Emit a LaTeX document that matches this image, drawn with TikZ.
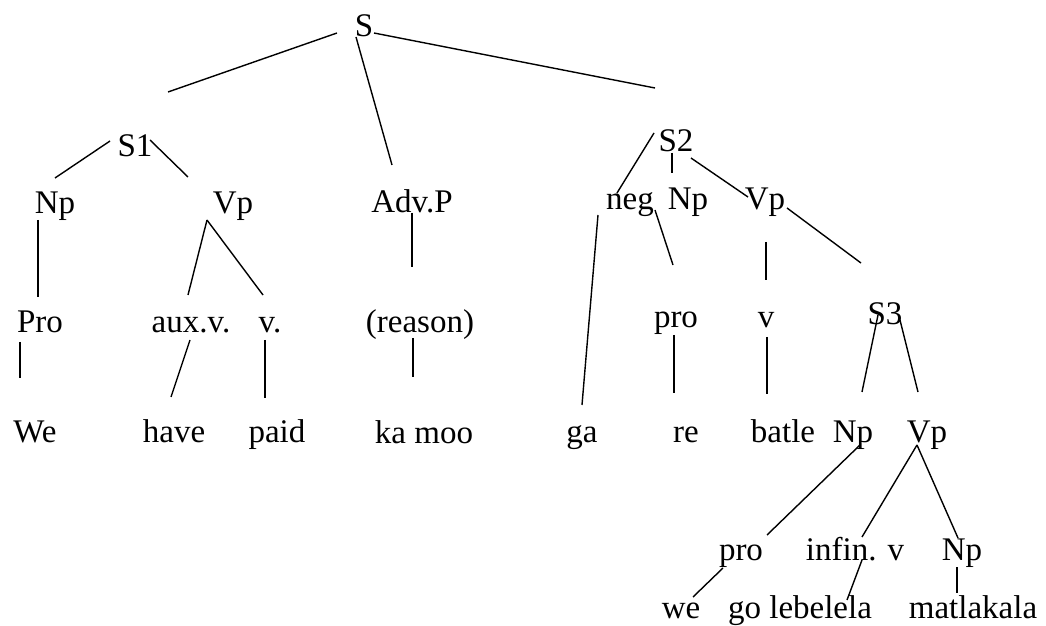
\documentclass[tikz,border=0pt]{standalone}
\usepackage{fontspec}
\setmainfont{Liberation Serif}
\begin{document}
\begin{tikzpicture}[x=0.5pt,y=-0.5pt,
  lbl/.style={anchor=base,inner sep=0pt,font=\fontsize{16.5}{20}\selectfont},
  edge/.style={line width=0.7pt,black}]
\useasboundingbox (0,0) rectangle (1046,626);
% labels, placed at the centre of their baselines
\node[lbl] (S)     at (364,37)  {S};
\node[lbl] (S1)    at (135,157) {S1};
\node[lbl] (S2)    at (676,152) {S2};
\node[lbl] (NpA)   at (55,214)  {Np};
\node[lbl] (VpA)   at (233,214) {Vp};
\node[lbl] (AdvP)  at (412,213) {Adv.P};
\node[lbl] (neg)   at (630,210) {neg};
\node[lbl] (NpB)   at (688,210) {Np};
\node[lbl] (VpB)   at (765,210) {Vp};
\node[lbl] (Pro)   at (40,333)  {Pro};
\node[lbl] (aux)   at (191,333) {aux.v.};
\node[lbl] (vA)    at (270,333) {v.};
\node[lbl] (reason) at (420,333) {(reason)};
\node[lbl] (proA)  at (676,328) {pro};
\node[lbl] (vB)    at (766,328) {v};
\node[lbl] (S3)    at (885,325) {S3};
\node[lbl] (We)    at (35,443)  {We};
\node[lbl] (have)  at (174,443) {have};
\node[lbl] (paid)  at (277,443) {paid};
\node[lbl] (kamoo) at (424,444) {ka moo};
\node[lbl] (ga)    at (582,443) {ga};
\node[lbl] (re)    at (686,443) {re};
\node[lbl] (batle) at (783,443) {batle};
\node[lbl] (NpC)   at (853,443) {Np};
\node[lbl] (VpC)   at (927,443) {Vp};
\node[lbl] (proB)  at (741,560) {pro};
\node[lbl] (infin) at (855,560) {infin. v};
\node[lbl] (NpD)   at (962,560) {Np};
\node[lbl] (we)    at (681,618) {we};
\node[lbl] (golebelela) at (800,618) {go lebelela};
\node[lbl] (matlakala)  at (973,618) {matlakala};
% loose ends of the two long top branches
\coordinate (Sleft)  at (168,92);
\coordinate (Sright) at (655,88);
% branches
\draw[edge] ([shift={(-27,-4)}]S.base) -- (Sleft);
\draw[edge] ([shift={(-8,0)}]S.base) -- ([shift={(-20,-48)}]AdvP.base);
\draw[edge] ([shift={(10,-4)}]S.base) -- (Sright);
\draw[edge] ([shift={(-25,-16)}]S1.base) -- ([shift={(0,-36)}]NpA.base);
\draw[edge] ([shift={(15,-17)}]S1.base) -- ([shift={(-45,-37)}]VpA.base);
\draw[edge] ([shift={(-17,6)}]NpA.base) -- ([shift={(-2,-36)}]Pro.base);
\draw[edge] ([shift={(-20,9)}]Pro.base) -- ([shift={(-15,-65)}]We.base);
\draw[edge] ([shift={(-26,6)}]VpA.base) -- ([shift={(-3,-38)}]aux.base);
\draw[edge] ([shift={(-26,6)}]VpA.base) -- ([shift={(-7,-38)}]vA.base);
\draw[edge] ([shift={(-1,7)}]aux.base) -- ([shift={(-3,-46)}]have.base);
\draw[edge] ([shift={(-5,7)}]vA.base) -- ([shift={(-12,-45)}]paid.base);
\draw[edge] ([shift={(0,0)}]AdvP.base) -- ([shift={(-8,-66)}]reason.base);
\draw[edge] ([shift={(-7,5)}]reason.base) -- ([shift={(-11,-67)}]kamoo.base);
\draw[edge] ([shift={(-22,-19)}]S2.base) -- ([shift={(-13,-17)}]neg.base);
\draw[edge] ([shift={(-4,1)}]S2.base) -- ([shift={(-16,-37)}]NpB.base);
\draw[edge] ([shift={(15,6)}]S2.base) -- ([shift={(-17,-13)}]VpB.base);
\draw[edge] ([shift={(-32,5)}]neg.base) -- ([shift={(0,-38)}]ga.base);
\draw[edge] ([shift={(25,0)}]neg.base) -- ([shift={(-3,-63)}]proA.base);
\draw[edge] ([shift={(1,32)}]VpB.base) -- ([shift={(0,-48)}]vB.base);
\draw[edge] ([shift={(22,-2)}]VpB.base) -- ([shift={(-24,-62)}]S3.base);
\draw[edge] ([shift={(-2,7)}]proA.base) -- ([shift={(-12,-50)}]re.base);
\draw[edge] ([shift={(1,9)}]vB.base) -- ([shift={(-16,-49)}]batle.base);
\draw[edge] ([shift={(-7,-10)}]S3.base) -- ([shift={(9,-51)}]NpC.base);
\draw[edge] ([shift={(15,-5)}]S3.base) -- ([shift={(-9,-51)}]VpC.base);
\draw[edge] ([shift={(7,2)}]NpC.base) -- ([shift={(26,-25)}]proB.base);
\draw[edge] ([shift={(-10,2)}]VpC.base) -- ([shift={(7,-23)}]infin.base);
\draw[edge] ([shift={(-10,2)}]VpC.base) -- ([shift={(-4,-22)}]NpD.base);
\draw[edge] ([shift={(-18,8)}]proB.base) -- ([shift={(12,-21)}]we.base);
\draw[edge] ([shift={(7,0)}]infin.base) -- ([shift={(47,-18)}]golebelela.base);
\draw[edge] ([shift={(-5,7)}]NpD.base) -- ([shift={(-16,-25)}]matlakala.base);
\end{tikzpicture}
\end{document}
